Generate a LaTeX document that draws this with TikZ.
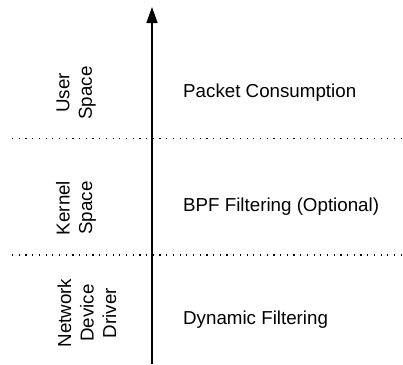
\documentclass[tikz,border=0pt]{standalone}
\usepackage{fontspec}
\setmainfont{Liberation Sans}
\usetikzlibrary{positioning}
\usetikzlibrary{arrows.meta}

\tikzset{
  txt/.style={font=\fontsize{18.75}{22.5}\selectfont, inner sep=0pt},
  layer/.style={txt, rotate=90, align=center},
  stage/.style={txt, anchor=west},
  sep/.style={line width=1.2pt, dash pattern=on 1.2pt off 5.5pt}
}

\begin{document}
\begin{tikzpicture}[x=1pt, y=-1pt]
		\useasboundingbox (0,0) rectangle (403,364);
		% packet path, bottom to top
		\coordinate (bottom) at (152,364);
		\coordinate (top) at (152,7);
		% layer borders
		\coordinate (b1l) at (12,138.5);
		\coordinate (b1r) at (403,138.5);
		\coordinate (b2l) at (12,255);
		\coordinate (b2r) at (403,255);
		\begin{scope}[every node/.style={layer}]
			\node (user) at (76,93) {User\\Space};
			\node (kernel) at (76,208) {Kernel\\Space};
			\node (driver) at (87,313) {Network\\Device\\Driver};
		\end{scope}
		\begin{scope}[every node/.style={stage}]
			\node (consume) at (183,93) {Packet Consumption};
			\node (bpf) at (183,207) {BPF Filtering (Optional)};
			\node (dynamic) at (183,320) {Dynamic Filtering};
		\end{scope}
		\draw[sep] (b1l) -- (b1r);
		\draw[sep] (b2l) -- (b2r);
		\draw[line width=1.5pt, -{Triangle[length=16pt, width=11pt]}] (bottom) -- (top);
	\end{tikzpicture}
\end{document}
